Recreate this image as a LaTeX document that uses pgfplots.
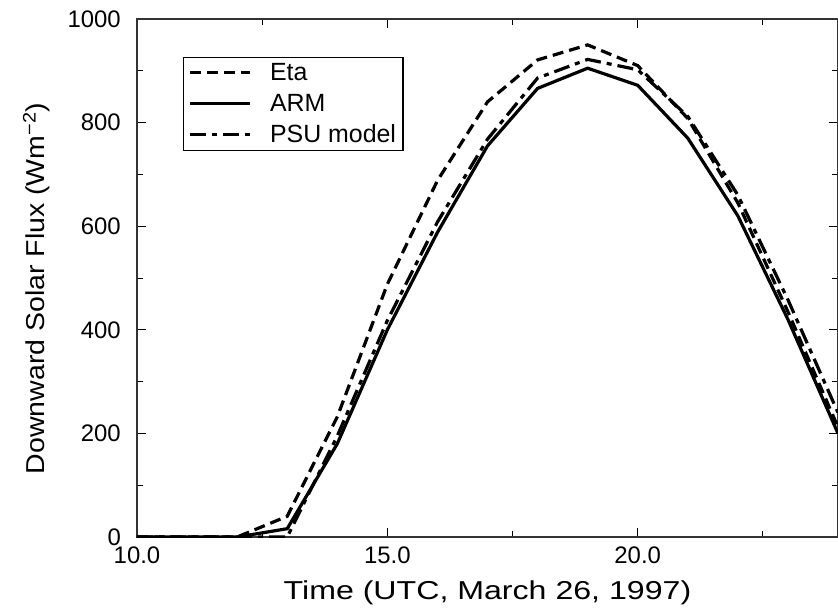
\documentclass[border=0pt]{standalone}
\usepackage{fontspec}
\setmainfont{Liberation Sans}
\usepackage{graphicx}
\usepackage{pgfplots}
\pgfplotsset{compat=1.18}
\begin{document}
\begin{tikzpicture}
\begin{axis}[
    scale only axis,
    width=701bp, height=518bp,
    xmin=10, xmax=24,
    ymin=0, ymax=1000,
    xtick={10,15,20},
    minor xtick={12.5,17.5,22.5},
    ytick={0,200,400,600,800,1000},
    minor ytick={100,300,500,700,900},
    tick align=inside,
    major tick length=9bp,
    minor tick length=6bp,
    ticklabel style={font=\fontsize{24}{28}\selectfont, inner sep=0pt},
    xticklabel style={yshift=-10bp,/pgf/number format/.cd,fixed,fixed zerofill,precision=1},
    yticklabel style={xshift=-16bp,/pgf/number format/.cd,set thousands separator={}},
    /pgf/number format/assume math mode=true,
    every tick/.style={black,line width=0.8bp},
    axis line style={line width=1.2bp,black!80},
    label style={font=\fontsize{26}{30}\selectfont},
    xlabel={\scalebox{1.24}[1]{Time (UTC, March 26, 1997)}},
    ylabel={\scalebox{1.1}[1]{Downward Solar Flux (Wm\textsuperscript{−2})}},
    xlabel style={yshift=-13bp},
    ylabel style={at={(ticklabel cs:0.48)}, yshift=14bp},
    legend style={at={(0.066,0.927)}, anchor=north west, draw=black, line width=1.2bp,
        font=\fontsize{25}{29}\selectfont, row sep=8bp, column sep=16bp,
        inner xsep=5bp, inner ysep=4bp},
    legend cell align=left,
    legend image code/.code={\draw[#1] (0bp,0bp) -- (60bp,0bp);},
]
\addplot[black, line width=3.2bp, dash pattern=on 11bp off 6bp] coordinates {
    (10,0)(11,0)(12,0)(13,40)(14,232)(15,488)(16,688)(17,840)(18,921)(19,950)(20,910)(21,808)(22,645)(23,435)(24,212)
};
\addlegendentry{Eta}
\addplot[black, line width=3.2bp] coordinates {
    (10,0)(11,0)(12,0)(13,16)(14,180)(15,400)(16,588)(17,755)(18,866)(19,905)(20,872)(21,770)(22,620)(23,420)(24,200)
};
\addlegendentry{ARM}
\addplot[black, line width=3.2bp, dash pattern=on 16bp off 6bp on 5bp off 6bp] coordinates {
    (10,0)(11,0)(12,0)(13,0)(14,195)(15,418)(16,608)(17,768)(18,886)(19,922)(20,902)(21,812)(22,660)(23,458)(24,240)
};
\addlegendentry{PSU model}
\end{axis}
\pgfresetboundingbox
\path ([shift={(-137bp,-71bp)}]current axis.south west) rectangle ([shift={(0bp,19bp)}]current axis.north east);
\end{tikzpicture}
\end{document}
